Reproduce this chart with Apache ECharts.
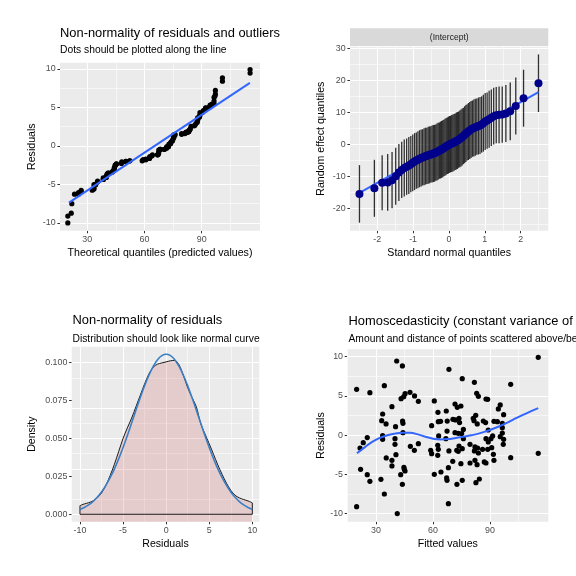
<!DOCTYPE html>
<html><head><meta charset="utf-8">
<script src="https://cdn.jsdelivr.net/npm/echarts@6/dist/echarts.min.js"></script>
<style>html,body{margin:0;padding:0;background:#fff}#c{width:576px;height:576px}</style>
</head><body><div id="c"></div>
<script>
// ---------- Panel 4 (and panel 1 via sorted quantiles): fitted values & residuals ----------
const fitted = [
40.9,43.9,19.8,26.8,34.4,47.9,45.3,44.6,43.2,50.3,52.3,60.7,38.4,33.5,33.0,35.3,40.3,44.0,44.2,44.2,33.5,25.4,40.0,59.3,62.8,64.0,62.6,67.0,68.4,67.5,67.4,63.0,
115.4,75.4,81.8,100.9,83.0,83.9,87.9,88.8,71.6,72.8,74.7,94.4,95.4,97.2,93.9,92.1,70.5,71.8,73.7,74.0,81.2,82.5,81.6,83.3,86.5,87.7,96.5,89.1,71.6,73.3,76.0,96.5,
21.6,23.3,33.5,40.0,48.1,50.2,52.3,58.8,59.3,62.5,62.8,62.5,35.4,38.4,40.5,38.4,21.9,25.4,26.8,32.6,34.4,19.8,41.2,43.0,44.7,45.3,44.9,43.9,60.7,64.2,67.2,67.4,68.1,68.1,66.8,
75.1,76.0,87.9,90.5,89.1,91.4,96.5,95.4,97.2,97.0,79.5,73.7,75.4,72.5,73.3,68.4,82.1,83.5,81.8,83.9,86.1,88.8,90.9,91.8,92.1,100.9,115.4,70.4,74.7,79.5,82.1,83.2,87.0,87.9,75.4,72.6,82.6,84.4
];
const residuals = [
9.45,8.82,5.84,5.42,6.31,5.46,5.29,4.91,4.65,5.0,4.31,4.36,3.63,2.7,1.85,1.43,1.08,1.81,1.51,0.32,-0.06,-0.31,-0.44,1.21,1.72,1.77,2.91,3.08,8.39,1.8,0.53,-0.1,
9.92,7.2,6.73,6.48,5.33,4.95,4.61,4.57,3.97,3.55,3.72,3.34,3.85,2.61,1.72,1.77,2.02,1.94,2.15,1.6,2.15,2.53,1.85,1.43,1.81,1.6,1.51,0.66,0.32,0.24,0.74,0.96,
-1.63,-0.95,-0.53,-1.16,-1.42,-1.93,-1.08,-1.93,-2.35,-2.56,-1.80,-1.29,-2.9,-3.2,-2.48,-3.92,-4.35,-5.03,-5.88,-5.62,-7.49,-9.10,-9.99,-5.03,-4.09,-4.56,-4.35,-6.26,-4.98,-4.69,-5.45,-5.75,-4.14,-8.72,-0.44,
0.2,-0.44,-0.44,-0.44,-0.87,-0.1,0.28,-0.19,-0.53,-1.16,-1.16,-1.38,-1.72,-1.93,-2.06,-2.01,-1.5,-1.63,-2.01,-2.27,-1.8,-1.8,-1.59,-2.44,-3.2,-2.86,-2.31,-3.33,-3.63,-3.54,-3.2,-3.75,-3.41,-3.54,-5.75,-6.26,-6.05,-5.58
];
// Panel 1 reference line (two end points)
const qqLineX = [20.4, 115.3];
const qqLineY = [-7.36, 8.19];
// Panel 4 smooth (loess) line
const loessX = [20,24,28,32,36,40,44,48,52,56,60,64,68,72,76,80,84,88,92,96,100,104,108,112,115.4];
const loessY = [-2.31,-1.55,-0.85,-0.35,0.0,0.2,0.32,0.3,0.1,-0.2,-0.45,-0.55,-0.5,-0.35,-0.2,-0.02,0.2,0.5,0.85,1.25,1.7,2.2,2.65,3.1,3.45];

// ---------- Panel 2: random effects QQ ----------
const reQ = [-2.496,-2.080,-1.863,-1.709,-1.587,-1.485,-1.397,-1.318,-1.247,-1.181,-1.120,-1.064,-1.010,-0.959,-0.911,-0.865,-0.820,-0.776,-0.734,-0.694,
-0.654,-0.616,-0.579,-0.542,-0.506,-0.471,-0.436,-0.402,-0.368,-0.335,-0.302,-0.269,-0.237,-0.205,-0.173,-0.142,-0.110,-0.078,-0.047,-0.016,
0.016,0.047,0.078,0.110,0.142,0.173,0.205,0.237,0.269,0.302,0.335,0.368,0.402,0.436,0.471,0.506,0.542,0.579,0.616,0.654,
0.694,0.734,0.776,0.820,0.865,0.911,0.959,1.010,1.064,1.120,1.181,1.247,1.318,1.397,1.485,1.587,1.709,1.863,2.080,2.496];
const reEst = [-15.5,-13.75,-12.0,-11.9,-11.2,-10.0,-8.8,-8.0,-7.4,-7.0,-6.6,-6.2,-5.8,-5.4,-5.1,-4.8,-4.5,-4.3,-4.1,-3.9,
-3.7,-3.6,-3.45,-3.3,-3.15,-3.0,-2.9,-2.8,-2.6,-2.4,-2.2,-2.0,-1.8,-1.6,-1.4,-1.15,-0.9,-0.65,-0.45,-0.25,
-0.05,0.1,0.25,0.4,0.6,0.8,1.0,1.2,1.45,1.7,2.0,2.3,2.6,3.0,3.4,3.7,4.0,4.3,4.6,4.9,
5.1,5.3,5.5,5.7,5.9,6.2,6.6,7.1,7.4,7.8,8.3,8.8,9.1,9.2,9.3,9.6,10.3,12.0,14.4,19.1];
const reHalfCI = [9.0,8.9,8.6,8.9,8.8,8.9,8.9,8.8,8.9,8.8,8.9,8.8,8.9,8.9,8.8,8.9,8.9,8.9,8.8,8.9,
8.9,8.8,8.9,8.9,8.8,8.9,8.9,8.9,8.8,8.9,8.9,8.8,8.9,8.9,8.9,8.8,8.9,8.9,8.8,8.9,
8.9,8.8,8.9,8.9,8.9,8.8,8.9,8.9,8.8,8.9,8.9,8.9,8.8,8.9,8.9,8.8,8.9,8.9,8.9,8.8,
8.9,8.9,8.8,8.9,8.9,8.8,8.9,8.9,8.8,8.9,8.8,8.9,8.8,8.9,8.8,8.9,9.0,8.9,8.9,9.0];
const reLineX = [-2.496, 2.496];
const reLineY = [-15.2, 16.3];

// ---------- Panel 3: density of residuals ----------
const densX = [-10,-9.5,-9,-8.5,-8,-7.5,-7,-6.5,-6,-5.5,-5,-4.5,-4,-3.5,-3,-2.5,-2,-1.5,-1,-0.5,0,0.5,1,1.5,2,2.5,3,3.5,4,4.5,5,5.5,6,6.5,7,7.5,8,8.5,9,9.5,10];
const densY = [0.0057,0.0068,0.0076,0.0088,0.0108,0.0140,0.0190,0.0255,0.0330,0.0415,0.0500,0.0570,0.0635,0.0710,0.0785,0.0860,0.0925,0.0970,0.0990,0.0998,
0.1005,0.1012,0.1015,0.0985,0.0915,0.0835,0.0770,0.0710,0.0600,0.0530,0.0465,0.0395,0.0325,0.0262,0.0205,0.0158,0.0125,0.0108,0.0097,0.0088,0.0075];
const normY = [0.0032,0.0045,0.0062,0.0084,0.0112,0.0147,0.0190,0.0241,0.0299,0.0366,0.0440,0.0519,0.0603,0.0687,0.0770,0.0848,0.0917,0.0975,0.1019,0.1046,
0.1055,0.1046,0.1019,0.0975,0.0917,0.0848,0.0770,0.0687,0.0603,0.0519,0.0440,0.0366,0.0299,0.0241,0.0190,0.0147,0.0112,0.0084,0.0062,0.0045,0.0032];

// ---------- tick labels ----------
const p1XTicks = [30,60,90], p1YTicks = [-10,-5,0,5,10];
const p2XTicks = [-2,-1,0,1,2], p2YTicks = [-20,-10,0,10,20,30];
const p3XTicks = [-10,-5,0,5,10], p3YTicks = [0,0.025,0.05,0.075,0.1];
const p4XTicks = [30,60,90], p4YTicks = [-10,-5,0,5,10];

const FONT = '"Liberation Sans", Arial, sans-serif';
const BLUE = '#3366FF';

function gridLines(i, xMaj, xMin, yMaj, yMin) {
  const d = [];
  xMin.forEach(v => d.push({xAxis: v, lineStyle: {width: 0.55}}));
  yMin.forEach(v => d.push({yAxis: v, lineStyle: {width: 0.55}}));
  xMaj.forEach(v => d.push({xAxis: v, lineStyle: {width: 1.1}}));
  yMaj.forEach(v => d.push({yAxis: v, lineStyle: {width: 1.1}}));
  return {type: 'line', xAxisIndex: i, yAxisIndex: i, data: [], z: 1, silent: true,
    markLine: {z: 1, silent: true, symbol: ['none', 'none'], symbolSize: 0, label: {show: false}, animation: false,
      lineStyle: {color: '#FFFFFF', type: 'solid'}, emphasis: {disabled: true}, data: d}};
}
function axis(gi, min, max, ticks, name, gap, isY, fmt) {
  return {type: 'value', gridIndex: gi, min: min, max: max, name: name,
    position: isY ? 'left' : 'bottom',
    nameLocation: 'middle', nameGap: gap, nameRotate: isY ? 90 : 0,
    nameTextStyle: {fontFamily: FONT, fontSize: 10.6, color: '#000000'},
    axisLine: {show: false, onZero: false}, splitLine: {show: false}, minorSplitLine: {show: false},
    axisTick: {show: true, customValues: ticks, length: 2.6, lineStyle: {color: '#333333', width: 1}},
    axisLabel: {customValues: ticks, margin: 4.3, fontFamily: FONT, fontSize: 8.9, color: '#4D4D4D',
      formatter: fmt || (v => String(v))}};
}

const sortedFit = fitted.slice().sort((a, b) => a - b);
const sortedRes = residuals.slice().sort((a, b) => a - b);

const chart = echarts.init(document.getElementById('c'), null, {renderer: 'canvas', width: 576, height: 576});
const titleStyle = {fontFamily: FONT, fontSize: 12.9, fontWeight: 'normal', color: '#000000'};
const subStyle = {fontFamily: FONT, fontSize: 10.3, fontWeight: 'normal', color: '#000000'};
const dotStyle = {color: '#000000', borderWidth: 0, opacity: 1};

chart.setOption({
  animation: false,
  backgroundColor: '#FFFFFF',
  title: [
    {text: 'Non-normality of residuals and outliers', left: 60, top: 26.5, padding: 0, textStyle: titleStyle},
    {text: 'Dots should be plotted along the line', left: 60, top: 45.5, padding: 0, textStyle: subStyle},
    {text: 'Non-normality of residuals', left: 72.5, top: 314, padding: 0, textStyle: titleStyle},
    {text: 'Distribution should look like normal curve', left: 72.5, top: 334, padding: 0, textStyle: subStyle},
    {text: 'Homoscedasticity (constant variance of residuals)', left: 348.5, top: 314.5, padding: 0, textStyle: titleStyle},
    {text: 'Amount and distance of points scattered above/below line', left: 348.5, top: 334, padding: 0, textStyle: subStyle}
  ],
  graphic: [
    {type: 'rect', shape: {x: 350, y: 28.3, width: 198.3, height: 17.6}, style: {fill: '#D9D9D9'}, silent: true},
    {type: 'text', x: 449.2, y: 37.2, silent: true,
     style: {text: '(Intercept)', font: '8.5px "Liberation Sans", Arial, sans-serif', fill: '#1A1A1A', textAlign: 'center', textVerticalAlign: 'middle'}}
  ],
  grid: [
    {left: 60, top: 62.7, width: 200, height: 168, show: true, backgroundColor: '#EBEBEB', borderWidth: 0},
    {left: 350, top: 46.7, width: 198.3, height: 184, show: true, backgroundColor: '#EBEBEB', borderWidth: 0},
    {left: 71.7, top: 346.7, width: 187.6, height: 175, show: true, backgroundColor: '#EBEBEB', borderWidth: 0},
    {left: 347.3, top: 349.3, width: 201, height: 172.4, show: true, backgroundColor: '#EBEBEB', borderWidth: 0}
  ],
  xAxis: [
    axis(0, 15.7, 120.6, p1XTicks, 'Theoretical quantiles (predicted values)', 17, false),
    axis(1, -2.76, 2.77, p2XTicks, 'Standard normal quantiles', 17, false),
    axis(2, -10.96, 10.81, p3XTicks, 'Residuals', 17, false),
    axis(3, 14.9, 120.7, p4XTicks, 'Fitted values', 17, false)
  ],
  yAxis: [
    axis(0, -11.0, 10.8, p1YTicks, 'Residuals', 22, true),
    axis(1, -27.0, 30.5, p2YTicks, 'Random effect quantiles', 23, true),
    axis(2, -0.0049, 0.1105, p3YTicks, 'Density', 34, true, v => v.toFixed(3)),
    axis(3, -11.02, 10.94, p4YTicks, 'Residuals', 21, true)
  ],
  series: [
    gridLines(0, [30,60,90], [45,75,105], [-10,-5,0,5,10], [-7.5,-2.5,2.5,7.5]),
    gridLines(1, [-2,-1,0,1,2], [-2.5,-1.5,-0.5,0.5,1.5,2.5], [-20,-10,0,10,20,30], [-25,-15,-5,5,15,25]),
    gridLines(2, [-10,-5,0,5,10], [-7.5,-2.5,2.5,7.5], [0,0.025,0.05,0.075,0.1], [0.0125,0.0375,0.0625,0.0875]),
    gridLines(3, [30,60,90], [15,45,75,105], [-10,-5,0,5,10], [-7.5,-2.5,2.5,7.5]),
    // Panel 1
    {type: 'scatter', xAxisIndex: 0, yAxisIndex: 0, z: 3, symbol: 'circle', symbolSize: 5.2, itemStyle: dotStyle,
     emphasis: {disabled: true}, data: sortedFit.map((x, i) => [x, sortedRes[i]])},
    {type: 'line', xAxisIndex: 0, yAxisIndex: 0, z: 4, symbol: 'none', lineStyle: {color: BLUE, width: 2},
     data: qqLineX.map((x, i) => [x, qqLineY[i]])},
    // Panel 2
    {type: 'custom', xAxisIndex: 1, yAxisIndex: 1, z: 3,
     data: reQ.map((q, i) => [q, reEst[i] - reHalfCI[i], reEst[i] + reHalfCI[i]]),
     encode: {x: 0, y: [1, 2]},
     renderItem: function (params, api) {
       const a = api.coord([api.value(0), api.value(1)]);
       const b = api.coord([api.value(0), api.value(2)]);
       return {type: 'line', shape: {x1: a[0], y1: a[1], x2: b[0], y2: b[1]},
         style: {stroke: 'rgba(0,0,0,0.8)', lineWidth: 1.3}};
     }},
    {type: 'line', xAxisIndex: 1, yAxisIndex: 1, z: 4, symbol: 'none', lineStyle: {color: BLUE, width: 2},
     data: reLineX.map((x, i) => [x, reLineY[i]])},
    {type: 'scatter', xAxisIndex: 1, yAxisIndex: 1, z: 5, symbol: 'circle', symbolSize: 8,
     itemStyle: {color: '#00008B', borderWidth: 0, opacity: 1},
     emphasis: {disabled: true}, data: reQ.map((q, i) => [q, reEst[i]])},
    // Panel 3
    {type: 'line', xAxisIndex: 2, yAxisIndex: 2, z: 3, symbol: 'none', smooth: 0.3,
     lineStyle: {color: '#1A1A1A', width: 1},
     areaStyle: {color: 'rgba(205,92,92,0.3)', origin: 'start'},
     data: densX.map((x, i) => [x, densY[i]])},
    {type: 'line', xAxisIndex: 2, yAxisIndex: 2, z: 3, symbol: 'none', lineStyle: {color: '#1A1A1A', width: 1},
     data: [[densX[0], densY[0]], [densX[0], 0], [densX[densX.length - 1], 0], [densX[densX.length - 1], densY[densY.length - 1]]]},
    {type: 'line', xAxisIndex: 2, yAxisIndex: 2, z: 4, symbol: 'none', smooth: 0.3,
     lineStyle: {color: '#3A7FC4', width: 1.6},
     data: densX.map((x, i) => [x, normY[i]])},
    // Panel 4
    {type: 'scatter', xAxisIndex: 3, yAxisIndex: 3, z: 3, symbol: 'circle', symbolSize: 5.2, itemStyle: dotStyle,
     emphasis: {disabled: true}, data: fitted.map((x, i) => [x, residuals[i]])},
    {type: 'line', xAxisIndex: 3, yAxisIndex: 3, z: 4, symbol: 'none', smooth: 0.4, lineStyle: {color: BLUE, width: 2},
     data: loessX.map((x, i) => [x, loessY[i]])}
  ]
});
</script>
</body></html>
